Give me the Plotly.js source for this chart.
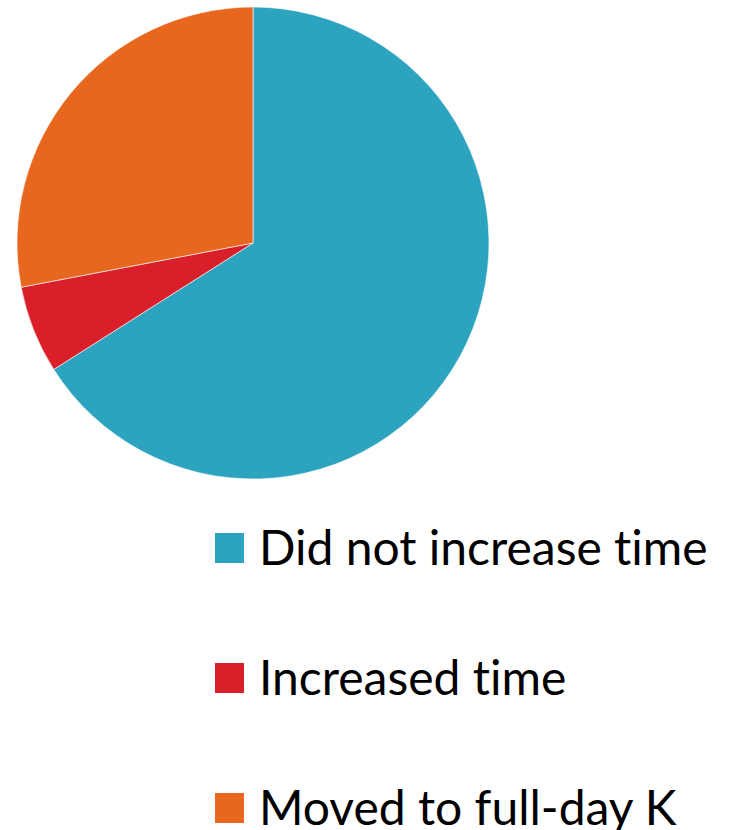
<!DOCTYPE html>
<html>
<head>
<meta charset="utf-8">
<script src="https://cdn.plot.ly/plotly-3.0.1.min.js"></script>
<style>html,body{margin:0;padding:0;background:#fff;}#chart{width:739px;height:830px;}
text{font-variant-ligatures:none;font-feature-settings:"liga" 0;}</style>
</head>
<body>
<div id="chart"></div>
<script>
const labels = ["Did not increase time", "Increased time", "Moved to full-day K"];
const values = [66, 6, 28];
const colors = ["#2CA3BF", "#D9202A", "#E8671F"];

const W = 739, H = 830;
const px = v => v / W;
const py = v => 1 - v / H;

const trace = {
  type: "pie",
  labels: labels,
  values: values,
  sort: false,
  direction: "clockwise",
  rotation: 0,
  textinfo: "none",
  hoverinfo: "label+percent",
  marker: { colors: colors, line: { color: "#ffffff", width: 0.6 } },
  domain: { x: [px(17), px(489)], y: [py(479), py(7)] },
  showlegend: false
};

const annotations = [];
const shapes = [];
const legendTop = 548, legendStep = 130;
labels.forEach((lab, i) => {
  const cy = legendTop + i * legendStep;
  shapes.push({
    type: "rect", xref: "paper", yref: "paper",
    x0: px(215), x1: px(244), y0: py(cy + 15), y1: py(cy - 15),
    fillcolor: colors[i], line: { width: 0 }
  });
  annotations.push({
    text: lab, xref: "paper", yref: "paper",
    x: px(257), y: py(cy - 2), xanchor: "left", yanchor: "middle",
    showarrow: false,
    font: { family: "Lato, 'Open Sans', sans-serif", size: 48, color: "#000000" }
  });
});

const layout = {
  width: W, height: H,
  margin: { l: 0, r: 0, t: 0, b: 0 },
  paper_bgcolor: "#ffffff",
  showlegend: false,
  annotations: annotations,
  shapes: shapes
};

Plotly.newPlot("chart", [trace], layout, { displayModeBar: false, staticPlot: true });
</script>
</body>
</html>
